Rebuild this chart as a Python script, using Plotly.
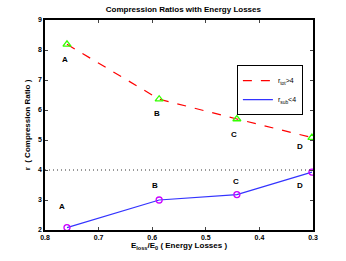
import plotly.graph_objects as go

loss = [0.759, 0.587, 0.442, 0.302]
r_tot = [8.19, 6.36, 5.70, 5.08]
r_sub = [2.08, 3.00, 3.18, 3.93]
labels = ["A", "B", "C", "D"]
tot_label_x = [0.762, 0.591, 0.447, 0.324]
tot_label_y = [7.67, 5.90, 5.17, 4.80]
sub_label_x = [0.768, 0.595, 0.444, 0.324]
sub_label_y = [2.77, 3.47, 3.63, 3.47]
threshold = 4

FONT = "Liberation Sans"

fig = go.Figure()
fig.add_trace(go.Scatter(
    x=loss, y=r_tot, mode="lines", name="r<sub>tot</sub>>4",
    line=dict(color="#ff0000", dash="dash", width=1.2),
))
fig.add_trace(go.Scatter(
    x=loss, y=r_sub, mode="lines", name="r<sub>sub</sub><4",
    line=dict(color="#3333ff", width=1.2),
))
fig.add_trace(go.Scatter(
    x=loss, y=r_tot, mode="markers", showlegend=False,
    marker=dict(symbol="triangle-up-open", color="#33ff00", size=7, line=dict(width=1.3)),
))
fig.add_trace(go.Scatter(
    x=loss, y=r_sub, mode="markers", showlegend=False,
    marker=dict(symbol="circle-open", color="#cc00ff", size=6, line=dict(width=1.3)),
))
fig.add_shape(type="line", xref="paper", x0=0, x1=1, yref="y", y0=threshold, y1=threshold,
              line=dict(color="#333333", width=1, dash="1px,3px"))

for lx, ly, t in zip(tot_label_x, tot_label_y, labels):
    fig.add_annotation(x=lx, y=ly, text="<b>" + t + "</b>", showarrow=False,
                       font=dict(family=FONT, size=8, color="black"))
for lx, ly, t in zip(sub_label_x, sub_label_y, labels):
    fig.add_annotation(x=lx, y=ly, text="<b>" + t + "</b>", showarrow=False,
                       font=dict(family=FONT, size=8, color="black"))

fig.update_layout(
    width=346, height=261,
    margin=dict(l=45, r=33, t=20, b=31),
    paper_bgcolor="white", plot_bgcolor="white",
    font=dict(family=FONT, size=7, color="black"),
    title=dict(text="<b>Compression Ratios with Energy Losses</b>", x=0.53, xanchor="center",
               y=0.975, yanchor="top", font=dict(family=FONT, size=8)),
    showlegend=True,
    legend=dict(x=0.716, y=0.785, xanchor="left", yanchor="top",
                bordercolor="black", borderwidth=1, bgcolor="white",
                font=dict(family=FONT, size=7, color="black"), tracegroupgap=0, itemwidth=30),
    xaxis=dict(range=[0.8, 0.3], tickvals=[0.8, 0.7, 0.6, 0.5, 0.4, 0.3],
               ticktext=["<b>0.8</b>", "<b>0.7</b>", "<b>0.6</b>", "<b>0.5</b>", "<b>0.4</b>", "<b>0.3</b>"],
               ticks="inside", ticklen=3, showline=True, linecolor="black", linewidth=1.5,
               mirror="ticks", showgrid=False, zeroline=False,
               title=dict(text="<b>E<sub>loss</sub>/E<sub>0</sub> ( Energy Losses )</b>", standoff=2,
                          font=dict(family=FONT, size=8))),
    yaxis=dict(range=[2, 9], tickvals=[2, 3, 4, 5, 6, 7, 8, 9],
               ticktext=["<b>%d</b>" % v for v in [2, 3, 4, 5, 6, 7, 8, 9]],
               ticks="inside", ticklen=3, showline=True, linecolor="black", linewidth=1.5,
               mirror="ticks", showgrid=False, zeroline=False,
               title=dict(text="<b>r  ( Compression Ratio )</b>", standoff=6,
                          font=dict(family=FONT, size=8))),
)

fig.write_html("out.html", config={"displayModeBar": False},
               post_script="document.body.style.margin='0px';")
